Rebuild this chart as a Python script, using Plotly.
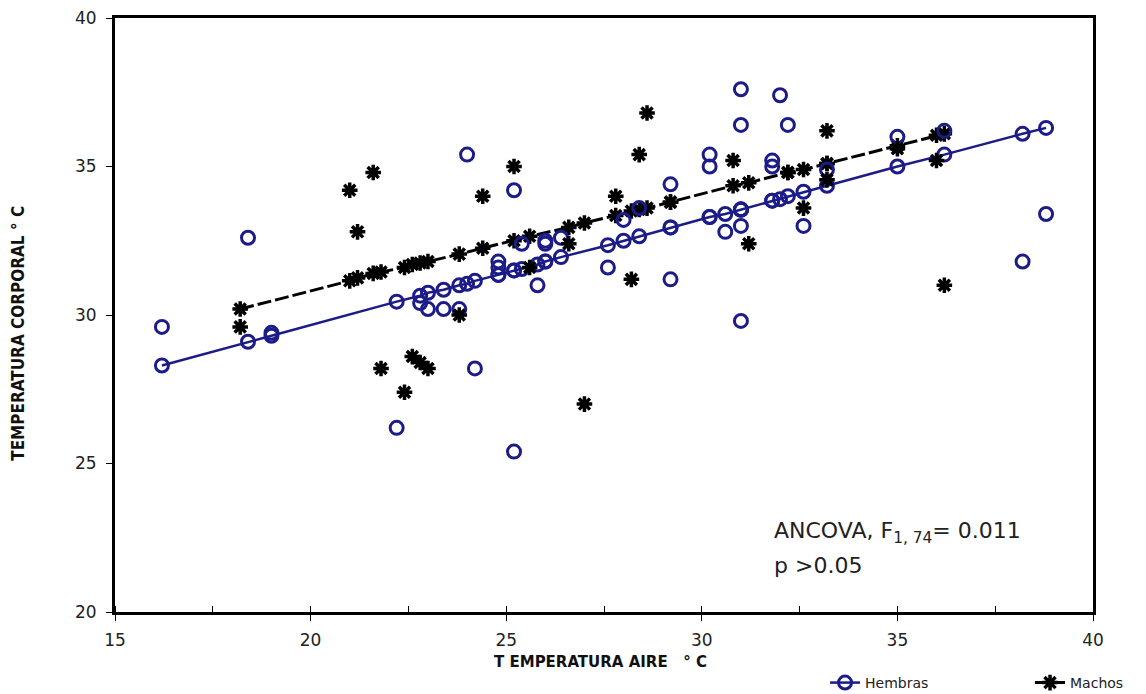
import plotly.graph_objects as go

# ---- Data ----
hembras_x = [16.2, 18.4, 19.0, 22.2, 22.8, 23.0, 23.4, 23.8, 24.0, 24.2,
             24.8, 24.8, 25.2, 25.2, 25.4, 25.8, 26.0, 26.0, 26.4, 27.6,
             28.0, 28.4, 29.2, 29.2, 30.2, 30.2, 30.6, 31.0, 31.0, 31.0,
             31.0, 31.8, 31.8, 32.0, 32.2, 32.6, 33.2, 35.0, 36.2, 38.2,
             38.8]
hembras_y = [29.6, 32.6, 29.4, 26.2, 30.4, 30.2, 30.2, 30.2, 35.4, 28.2,
             31.8, 31.6, 34.2, 25.4, 32.4, 31.0, 32.5, 32.4, 32.6, 31.6,
             33.2, 33.6, 34.4, 31.2, 35.4, 35.0, 32.8, 37.6, 36.4, 33.0,
             29.8, 35.2, 35.0, 37.4, 36.4, 33.0, 34.9, 36.0, 36.2, 31.8,
             33.4]
hembras_fit = [28.3, 29.1, 29.3, 30.45, 30.65, 30.75, 30.85, 31.0, 31.05, 31.15,
               31.35, 31.35, 31.5, 31.5, 31.55, 31.7, 31.8, 31.8, 31.95, 32.35,
               32.5, 32.65, 32.95, 32.95, 33.3, 33.3, 33.4, 33.55, 33.55, 33.55,
               33.55, 33.85, 33.85, 33.9, 34.0, 34.15, 34.35, 35.0, 35.4, 36.1,
               36.3]

machos_x = [18.2, 21.0, 21.2, 21.6, 21.8, 22.4, 22.6, 22.8, 23.0, 23.8,
            24.4, 25.2, 25.6, 26.6, 27.0, 27.8, 28.2, 28.4, 28.6, 29.2,
            30.8, 31.2, 32.2, 32.6, 33.2, 33.2, 35.0, 36.0, 36.2]
machos_y = [29.6, 34.2, 32.8, 34.8, 28.2, 27.4, 28.6, 28.4, 28.2, 30.0,
            34.0, 35.0, 31.6, 32.4, 27.0, 34.0, 31.2, 35.4, 36.8, 33.8,
            35.2, 32.4, 34.8, 33.6, 36.2, 34.55, 35.6, 35.2, 31.0]
machos_fit = [30.2, 31.15, 31.25, 31.4, 31.45, 31.6, 31.7, 31.75, 31.8, 32.05,
              32.25, 32.5, 32.65, 32.95, 33.1, 33.35, 33.5, 33.55, 33.6, 33.8,
              34.35, 34.45, 34.8, 34.9, 35.1, 35.1, 35.7, 36.05, 36.1]

x_ticks = [15, 20, 25, 30, 35, 40]
y_ticks = [20, 25, 30, 35, 40]

NAVY = "#1c1c88"
BLACK = "#000000"
FONT = "DejaVu Sans"

fig = go.Figure()

fig.add_trace(go.Scatter(
    x=hembras_x, y=hembras_fit, mode="lines+markers", name="Hembras",
    line=dict(color=NAVY, width=2.5),
    marker=dict(symbol="circle-open", size=13, color=NAVY, line=dict(width=3, color=NAVY)),
))
fig.add_trace(go.Scatter(
    x=machos_x, y=machos_fit, mode="lines+markers", name="Machos",
    line=dict(color=BLACK, width=3, dash="14px,4px"),
    marker=dict(symbol="asterisk-open", size=13, color=BLACK, line=dict(width=3.5, color=BLACK)),
))
fig.add_trace(go.Scatter(
    x=hembras_x, y=hembras_y, mode="markers", name="Hembras", showlegend=False,
    marker=dict(symbol="circle-open", size=13, color=NAVY, line=dict(width=3, color=NAVY)),
))
fig.add_trace(go.Scatter(
    x=machos_x, y=machos_y, mode="markers", name="Machos", showlegend=False,
    marker=dict(symbol="asterisk-open", size=13, color=BLACK, line=dict(width=3.5, color=BLACK)),
))

fig.update_layout(
    width=1146, height=694,
    margin=dict(l=115, r=53, t=18, b=82, autoexpand=False),
    paper_bgcolor="white", plot_bgcolor="white",
    font=dict(family=FONT, color="#222222"),
    legend=dict(orientation="h", x=0.726, xanchor="left", y=-0.1195, yanchor="middle",
                font=dict(family=FONT, size=14, color="#222222"),
                bgcolor="rgba(0,0,0,0)", itemwidth=30, tracegroupgap=0,
                entrywidth=160, entrywidthmode="pixels"),
)
fig.update_xaxes(
    range=[15, 40], tickvals=x_ticks, ticktext=[str(v) for v in x_ticks],
    showgrid=False, zeroline=False,
    showline=True, linewidth=3, linecolor=BLACK, mirror=True,
    ticks="outside", ticklen=6, tickwidth=1, tickcolor=BLACK,
    tickfont=dict(family=FONT, size=17, color="#222222"),
    ticklabelstandoff=5,
    minor=dict(dtick=2.5, ticks="inside", ticklen=6, tickwidth=1, tickcolor=BLACK, showgrid=False),
)
fig.update_yaxes(
    range=[20, 40], tickvals=y_ticks, ticktext=[str(v) for v in y_ticks],
    showgrid=False, zeroline=False,
    showline=True, linewidth=3, linecolor=BLACK, mirror=True,
    ticks="outside", ticklen=6, tickwidth=1, tickcolor=BLACK,
    tickfont=dict(family=FONT, size=17, color="#222222"),
    ticklabelstandoff=6,
)

fig.add_annotation(
    text="<b>TEMPERATURA CORPORAL ° C</b>", textangle=-90,
    xref="paper", yref="paper", x=-0.0992, y=0.47, xanchor="center", yanchor="middle",
    showarrow=False, font=dict(family="Liberation Sans Narrow, DejaVu Sans Condensed", size=17, color="#111111"),
)
fig.add_annotation(
    text="<b>T EMPERATURA AIRE   ° C</b>",
    xref="paper", yref="paper", x=0.496, y=-0.084, xanchor="center", yanchor="middle",
    showarrow=False, font=dict(family=FONT, size=15, color="#111111"),
)
fig.add_annotation(
    text="ANCOVA, F<sub>1, 74</sub>= 0.011",
    xref="paper", yref="paper", x=0.6718, y=0.133, xanchor="left", yanchor="middle",
    showarrow=False, font=dict(family=FONT, size=22, color="#222222"),
)
fig.add_annotation(
    text="p >0.05",
    xref="paper", yref="paper", x=0.6718, y=0.0791, xanchor="left", yanchor="middle",
    showarrow=False, font=dict(family=FONT, size=22, color="#222222"),
)

fig.write_html("out.html")
